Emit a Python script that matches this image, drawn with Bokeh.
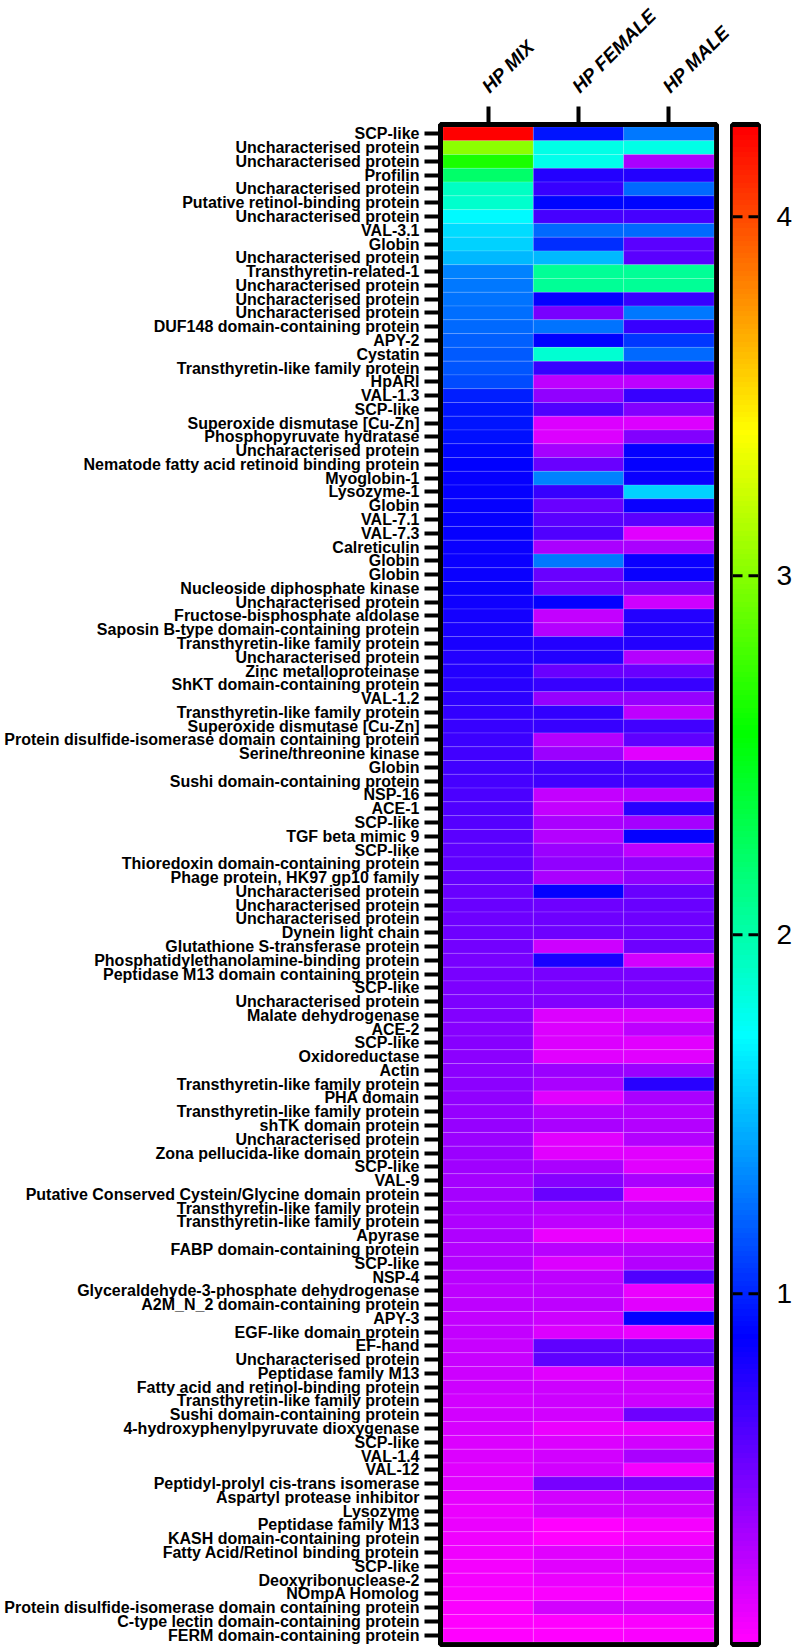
import colorsys
import math
import numpy as np
from bokeh.plotting import figure
from bokeh.layouts import row, column
from bokeh.models import ColumnDataSource, Range1d, FixedTicker, LinearColorMapper
from bokeh.core.properties import value
from bokeh.transform import transform
from bokeh.embed import file_html
from bokeh.resources import INLINE

proteins = [
    "SCP-like", "Uncharacterised protein", "Uncharacterised protein", "Profilin",
    "Uncharacterised protein", "Putative retinol-binding protein", "Uncharacterised protein",
    "VAL-3.1", "Globin", "Uncharacterised protein", "Transthyretin-related-1",
    "Uncharacterised protein", "Uncharacterised protein", "Uncharacterised protein",
    "DUF148 domain-containing protein", "APY-2", "Cystatin", "Transthyretin-like family protein",
    "HpARI", "VAL-1.3", "SCP-like", "Superoxide dismutase [Cu-Zn]", "Phosphopyruvate hydratase",
    "Uncharacterised protein", "Nematode fatty acid retinoid binding protein", "Myoglobin-1",
    "Lysozyme-1", "Globin", "VAL-7.1", "VAL-7.3", "Calreticulin", "Globin", "Globin",
    "Nucleoside diphosphate kinase", "Uncharacterised protein", "Fructose-bisphosphate aldolase",
    "Saposin B-type domain-containing protein", "Transthyretin-like family protein",
    "Uncharacterised protein", "Zinc metalloproteinase", "ShKT domain-containing protein",
    "VAL-1.2", "Transthyretin-like family protein", "Superoxide dismutase [Cu-Zn]",
    "Protein disulfide-isomerase domain containing protein", "Serine/threonine kinase",
    "Globin", "Sushi domain-containing protein", "NSP-16", "ACE-1", "SCP-like",
    "TGF beta mimic 9", "SCP-like", "Thioredoxin domain-containing protein",
    "Phage protein, HK97 gp10 family", "Uncharacterised protein", "Uncharacterised protein",
    "Uncharacterised protein", "Dynein light chain", "Glutathione S-transferase protein",
    "Phosphatidylethanolamine-binding protein", "Peptidase M13 domain containing protein",
    "SCP-like", "Uncharacterised protein", "Malate dehydrogenase", "ACE-2", "SCP-like",
    "Oxidoreductase", "Actin", "Transthyretin-like family protein", "PHA domain",
    "Transthyretin-like family protein", "shTK domain protein", "Uncharacterised protein",
    "Zona pellucida-like domain protein", "SCP-like", "VAL-9",
    "Putative Conserved Cystein/Glycine domain protein", "Transthyretin-like family protein",
    "Transthyretin-like family protein", "Apyrase", "FABP domain-containing protein",
    "SCP-like", "NSP-4", "Glyceraldehyde-3-phosphate dehydrogenase",
    "A2M_N_2 domain-containing protein", "APY-3", "EGF-like domain protein", "EF-hand",
    "Uncharacterised protein", "Peptidase family M13", "Fatty acid and retinol-binding protein",
    "Transthyretin-like family protein", "Sushi domain-containing protein",
    "4-hydroxyphenylpyruvate dioxygenase", "SCP-like", "VAL-1.4", "VAL-12",
    "Peptidyl-prolyl cis-trans isomerase", "Aspartyl protease inhibitor", "Lysozyme",
    "Peptidase family M13", "KASH domain-containing protein", "Fatty Acid/Retinol binding protein",
    "SCP-like", "Deoxyribonuclease-2", "NOmpA Homolog",
    "Protein disulfide-isomerase domain containing protein",
    "C-type lectin domain-containing protein", "FERM domain-containing protein",
]

samples = ["HP MIX", "HP FEMALE", "HP MALE"]

hp_mix = [
    4.24, 3.03, 2.65, 2.22, 1.91, 1.88, 1.70, 1.60, 1.57, 1.49,
    1.30, 1.28, 1.25, 1.24, 1.22, 1.20, 1.17, 1.16, 1.12, 0.97,
    0.95, 0.94, 0.93, 0.89, 0.88, 0.87, 0.87, 0.86, 0.86, 0.86,
    0.85, 0.85, 0.85, 0.84, 0.83, 0.82, 0.80, 0.79, 0.77, 0.76,
    0.74, 0.73, 0.71, 0.70, 0.68, 0.67, 0.66, 0.64, 0.63, 0.61,
    0.60, 0.58, 0.57, 0.56, 0.55, 0.54, 0.53, 0.52, 0.51, 0.50,
    0.49, 0.48, 0.47, 0.46, 0.45, 0.44, 0.43, 0.42, 0.42, 0.41,
    0.40, 0.39, 0.38, 0.37, 0.36, 0.35, 0.34, 0.33, 0.32, 0.31,
    0.30, 0.29, 0.28, 0.27, 0.26, 0.25, 0.24, 0.23, 0.22, 0.22,
    0.21, 0.20, 0.19, 0.18, 0.17, 0.16, 0.15, 0.14, 0.13, 0.12,
    0.11, 0.10, 0.09, 0.08, 0.07, 0.07, 0.06, 0.05, 0.04, 0.03,
]

hp_female = [
    0.94, 1.80, 1.79, 0.77, 0.69, 0.90, 0.64, 1.22, 1.03, 1.49,
    2.07, 2.07, 0.86, 0.48, 1.25, 0.88, 1.86, 0.69, 0.26, 0.40,
    0.61, 0.16, 0.16, 0.34, 0.53, 1.30, 0.69, 0.53, 0.58, 0.61,
    0.32, 1.28, 0.53, 0.48, 0.86, 0.24, 0.29, 0.77, 0.77, 0.53,
    0.69, 0.38, 0.72, 0.69, 0.29, 0.37, 0.66, 0.66, 0.24, 0.24,
    0.32, 0.29, 0.37, 0.40, 0.32, 0.86, 0.51, 0.51, 0.51, 0.21,
    0.80, 0.48, 0.45, 0.45, 0.16, 0.16, 0.16, 0.13, 0.37, 0.32,
    0.13, 0.29, 0.32, 0.13, 0.13, 0.32, 0.43, 0.53, 0.29, 0.26,
    0.10, 0.27, 0.16, 0.26, 0.26, 0.26, 0.21, 0.16, 0.56, 0.56,
    0.13, 0.21, 0.21, 0.18, 0.10, 0.16, 0.18, 0.18, 0.48, 0.18,
    0.18, 0.02, 0.02, 0.13, 0.13, 0.10, 0.06, 0.18, 0.00, 0.02,
]

hp_male = [
    1.28, 1.80, 0.32, 0.76, 1.22, 0.90, 0.64, 1.22, 0.58, 0.58,
    2.07, 2.07, 0.69, 1.28, 0.69, 1.06, 1.22, 0.69, 0.26, 0.69,
    0.45, 0.16, 0.45, 0.86, 0.86, 0.85, 1.57, 0.85, 0.58, 0.13,
    0.32, 0.85, 0.85, 0.48, 0.21, 0.77, 0.77, 0.77, 0.29, 0.53,
    0.69, 0.38, 0.26, 0.66, 0.56, 0.13, 0.66, 0.66, 0.26, 0.74,
    0.34, 0.86, 0.26, 0.40, 0.40, 0.53, 0.53, 0.51, 0.51, 0.51,
    0.18, 0.48, 0.45, 0.45, 0.16, 0.26, 0.13, 0.13, 0.37, 0.74,
    0.32, 0.29, 0.29, 0.29, 0.13, 0.13, 0.32, 0.10, 0.29, 0.26,
    0.10, 0.27, 0.29, 0.61, 0.10, 0.13, 0.86, 0.10, 0.56, 0.56,
    0.18, 0.21, 0.21, 0.51, 0.10, 0.18, 0.32, 0.07, 0.48, 0.21,
    0.18, 0.07, 0.07, 0.16, 0.16, 0.10, 0.02, 0.18, 0.05, 0.05,
]

cbar_ticks = [1, 2, 3, 4]
cbar_labels = ["1", "2", "3", "4"]
vmin, vmax = 0.03, 4.25

# ---------------------------------------------------------------- colours
palette = []
for i in range(256):
    h = (300.0 - 300.0 * i / 255.0) / 360.0
    r, g, b = colorsys.hsv_to_rgb(h, 1.0, 1.0)
    palette.append("#%02x%02x%02x" % (int(round(r * 255)), int(round(g * 255)), int(round(b * 255))))
mapper = LinearColorMapper(palette=palette, low=vmin, high=vmax)

n = len(proteins)
xs, ys, vs = [], [], []
for j, series in enumerate([hp_mix, hp_female, hp_male]):
    for i, v in enumerate(series):
        xs.append(j + 1)
        ys.append(i + 1)
        vs.append(v)
src = ColumnDataSource(dict(x=xs, y=ys, v=vs))

FONT = "Liberation Sans"

# ---------------------------------------------------------------- geometry (px)
PAGE_W = 794
HH = 100               # header strip with the column names
H = 1548               # main row height
TOP = 24
FRAME_H = 1520
BOTTOM = H - TOP - FRAME_H
BW = 5                 # border width
A_LEFT, A_FRAME, A_RIGHT = 440, 276, 6
A_W = A_LEFT + A_FRAME + A_RIGHT
B_LEFT, B_FRAME, B_RIGHT = 10, 26, 3
B_W = B_LEFT + B_FRAME + B_RIGHT
C_W = PAGE_W - A_W - B_W
TICK_LEN = 10
LABEL_GAP = 15
HEAD_BASE = 11         # baseline of the column names above header bottom

cell_w = (A_FRAME - BW) / 3.0
cell_h = (FRAME_H - BW) / n
xpad = (BW / 2.0) / cell_w
ypad = (BW / 2.0) / cell_h
vpad = (BW / 2.0) * (vmax - vmin) / (FRAME_H - BW)

# ---------------------------------------------------------------- heatmap
p = figure(width=A_W, height=H,
           x_range=Range1d(0.5 - xpad, 3.5 + xpad),
           y_range=Range1d(n + 0.5 + ypad, 0.5 - ypad),
           x_axis_location="above", output_backend="svg", toolbar_location=None,
           min_border_left=A_LEFT, min_border_right=A_RIGHT,
           min_border_top=TOP, min_border_bottom=BOTTOM)

p.rect(x="x", y="y", width=1, height=1, source=src,
       fill_color=transform("v", mapper), line_color="white", line_alpha=0.18, line_width=0.8)

p.xgrid.visible = False
p.ygrid.visible = False
p.outline_line_color = "black"
p.outline_line_width = BW
p.outline_line_alpha = 1.0

ya = p.yaxis[0]
ya.ticker = FixedTicker(ticks=list(range(1, n + 1)))
ya.major_label_overrides = {i + 1: name for i, name in enumerate(proteins)}
ya.major_label_text_font = FONT
ya.major_label_text_font_style = "bold"
ya.major_label_text_font_size = "16px"
ya.major_label_text_color = "black"
ya.major_tick_out = 16
ya.major_tick_in = 0
ya.major_tick_line_width = 4
ya.major_tick_line_color = "black"
ya.minor_tick_line_color = None
ya.axis_line_width = BW
ya.axis_line_color = "black"
ya.major_label_standoff = 5

xa = p.xaxis[0]
xa.ticker = FixedTicker(ticks=[1, 2, 3])
xa.major_label_overrides = {1: "", 2: "", 3: ""}
xa.major_label_text_font_size = "0px"
xa.major_label_standoff = 0
xa.major_tick_out = 18
xa.major_tick_in = 0
xa.major_tick_line_width = 4
xa.major_tick_line_color = "black"
xa.minor_tick_line_color = None
xa.axis_line_width = BW
xa.axis_line_color = "black"

# ---------------------------------------------------------------- header with column names
hx0 = 0.5 - xpad - A_LEFT / cell_w
header = figure(width=PAGE_W, height=HH,
                x_range=Range1d(hx0, hx0 + PAGE_W / cell_w), y_range=Range1d(0, HH),
                x_axis_location=None, y_axis_location=None,
                output_backend="svg", toolbar_location=None,
                min_border_left=0, min_border_right=0, min_border_top=0, min_border_bottom=0)
header.xgrid.visible = False
header.ygrid.visible = False
header.outline_line_color = None
header.text(x=[1, 2, 3], y=[HEAD_BASE] * 3, text=samples, angle=math.pi / 4,
            x_offset=-3, text_font=value(FONT), text_font_style="bold italic",
            text_font_size="19px", text_color="black",
            text_align="left", text_baseline="alphabetic")

# ---------------------------------------------------------------- colour bar
cb = figure(width=B_W, height=H,
            x_range=Range1d(0, 1), y_range=Range1d(vmin - vpad, vmax + vpad),
            x_axis_location=None, y_axis_location=None,
            output_backend="svg", toolbar_location=None,
            min_border_left=B_LEFT, min_border_right=B_RIGHT,
            min_border_top=TOP, min_border_bottom=BOTTOM)
grad = np.linspace(vmin, vmax, 600).reshape(-1, 1)
cb.image(image=[grad], x=0, y=vmin, dw=1, dh=vmax - vmin, color_mapper=mapper)
cb.xgrid.visible = False
cb.ygrid.visible = False
cb.outline_line_color = "black"
cb.outline_line_width = BW
cb.outline_line_alpha = 1.0
t = TICK_LEN / B_FRAME
cb.segment(x0=[0] * len(cbar_ticks), y0=cbar_ticks, x1=[t] * len(cbar_ticks), y1=cbar_ticks,
           line_color="black", line_width=3)
cb.segment(x0=[1 - t] * len(cbar_ticks), y0=cbar_ticks, x1=[1] * len(cbar_ticks), y1=cbar_ticks,
           line_color="black", line_width=3)

# ---------------------------------------------------------------- colour bar labels
cl = figure(width=C_W, height=H,
            x_range=Range1d(0, C_W), y_range=Range1d(vmin - vpad, vmax + vpad),
            x_axis_location=None, y_axis_location=None,
            output_backend="svg", toolbar_location=None,
            min_border_left=0, min_border_right=0,
            min_border_top=TOP, min_border_bottom=BOTTOM)
cl.xgrid.visible = False
cl.ygrid.visible = False
cl.outline_line_color = None
cl.text(x=[LABEL_GAP] * len(cbar_ticks), y=cbar_ticks, text=cbar_labels,
        text_font=value(FONT), text_font_size="28px", text_color="black",
        text_align="left", text_baseline="middle")

layout = column(header, row(p, cb, cl))

with open("out.html", "w") as f:
    f.write(file_html(layout, INLINE))
